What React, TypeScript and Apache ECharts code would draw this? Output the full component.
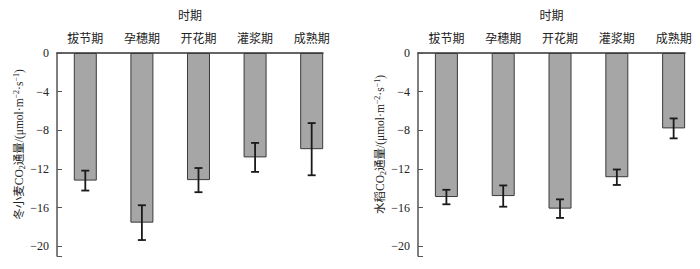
import React, { useEffect, useRef } from "react";
import * as echarts from "echarts";

const categories = ["拔节期", "孕穗期", "开花期", "灌浆期", "成熟期"];
const wheatValues = [-13.2, -17.55, -13.15, -10.8, -9.95];
const wheatErrors = [1.03, 1.8, 1.25, 1.5, 2.7];
const riceValues = [-14.9, -14.8, -16.1, -12.85, -7.8];
const riceErrors = [0.75, 1.1, 0.96, 0.8, 1.03];
const yTickLabels = [0, -4, -8, -12, -16, -20];
const xAxisTitle = "时期";
const wheatYName = "冬小麦CO{sub|2}通量/(μmol·m{sup|−2}·s{sup|−1})";
const riceYName = "水稻CO{sub|2}通量/(μmol·m{sup|−2}·s{sup|−1})";

const serif = "'Liberation Serif', 'DejaVu Serif', serif";
const cjk = "'Noto Sans CJK SC', 'Liberation Serif', serif";
const mixed = "'Liberation Serif', 'Noto Sans CJK SC', serif";

export default function App() {
  const ref = useRef<HTMLDivElement>(null);
  useEffect(() => {
    if (!ref.current) return;
    const chart = echarts.init(ref.current, null, { renderer: "svg" });
    const grids = [
      { left: 57, top: 53, width: 266, height: 203 },
      { left: 418, top: 53, width: 267, height: 203 },
    ];
    const xAxes = grids.map((_, i) => ({
      type: "value",
      gridIndex: i,
      position: "top",
      min: 0.5,
      max: 5.2,
      name: xAxisTitle,
      nameLocation: "middle",
      nameGap: 33,
      nameTextStyle: { fontFamily: cjk, fontSize: 12, color: "#222" },
      axisLine: { show: true, onZero: false, lineStyle: { color: "#333", width: 1.5 } },
      axisTick: { show: false },
      splitLine: { show: false },
      axisLabel: {
        customValues: [1, 2, 3, 4, 5],
        formatter: (v: number) => categories[Math.round(v) - 1] ?? "",
        fontFamily: cjk,
        fontSize: 12,
        color: "#222",
        margin: 10,
      },
    }));
    const richName = {
      sub: { fontSize: 8, verticalAlign: "bottom", fontFamily: serif, color: "#222", padding: [6, 0, 0, 0] },
      sup: { fontSize: 8, verticalAlign: "top", fontFamily: serif, color: "#222", padding: [0, 0, 6, 0] },
    };
    const yAxes = [wheatYName, riceYName].map((name, i) => ({
      type: "value",
      gridIndex: i,
      min: -21,
      max: 0,
      name,
      nameLocation: "middle",
      nameRotate: 90,
      nameGap: 26,
      nameTextStyle: { fontFamily: mixed, fontSize: 11.5, color: "#222", rich: richName, padding: [0, 0, 0, 20] },
      axisLine: { show: true, onZero: false, lineStyle: { color: "#555", width: 1.5 } },
      axisTick: {
        show: true,
        inside: true,
        length: 5,
        customValues: [0, -4, -8, -12, -16, -20, -21],
        lineStyle: { color: "#555" },
      },
      splitLine: { show: false },
      axisLabel: {
        customValues: yTickLabels,
        formatter: (v: number) => (v < 0 ? "−" + -v : String(v)),
        fontFamily: serif,
        fontSize: 12,
        color: "#222",
        margin: 8,
      },
    }));
    const makeBars = (values: number[], idx: number) => ({
      type: "bar",
      xAxisIndex: idx,
      yAxisIndex: idx,
      barWidth: 23,
      data: values.map((v, i) => [i + 1, v]),
      itemStyle: { color: "#a6a6a6", borderColor: "#3a3a3a", borderWidth: 1 },
    });
    const makeErr = (values: number[], errs: number[], idx: number) => ({
      type: "custom",
      xAxisIndex: idx,
      yAxisIndex: idx,
      z: 10,
      data: values.map((v, i) => [i + 1, v + errs[i], v - errs[i]]),
      renderItem: (params: any, api: any) => {
        const x = api.value(0);
        const top = api.coord([x, api.value(1)]);
        const bot = api.coord([x, api.value(2)]);
        const half = 4;
        const style = { stroke: "#1a1a1a", lineWidth: 1.8 };
        return {
          type: "group",
          children: [
            { type: "line", shape: { x1: top[0], y1: top[1], x2: bot[0], y2: bot[1] }, style },
            { type: "line", shape: { x1: top[0] - half, y1: top[1], x2: top[0] + half, y2: top[1] }, style },
            { type: "line", shape: { x1: bot[0] - half, y1: bot[1], x2: bot[0] + half, y2: bot[1] }, style },
          ],
        };
      },
    });
    chart.setOption({
      animation: false,
      backgroundColor: "#fff",
      grid: grids,
      xAxis: xAxes,
      yAxis: yAxes,
      series: [
        makeBars(wheatValues, 0),
        makeErr(wheatValues, wheatErrors, 0),
        makeBars(riceValues, 1),
        makeErr(riceValues, riceErrors, 1),
      ],
    });
    return () => chart.dispose();
  }, []);
  return <div ref={ref} style={{ width: 700, height: 269, margin: -8 }} />;
}
